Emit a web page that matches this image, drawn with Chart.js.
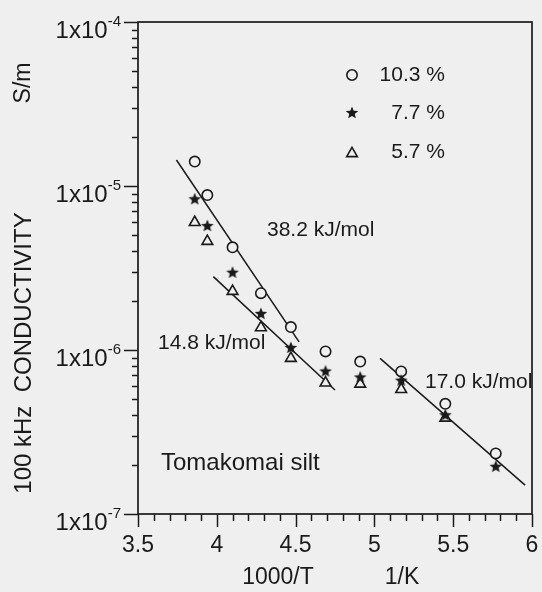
<!DOCTYPE html>
<html><head><meta charset="utf-8">
<script src="https://cdn.jsdelivr.net/npm/chart.js@4/dist/chart.umd.min.js"></script>
<style>html,body{margin:0;padding:0;background:#efefef;}canvas{display:block;}</style>
</head><body>
<canvas id="c" width="542" height="592"></canvas>
<script>
// ---- data ----
const invTemp  = [3.86, 3.94, 4.10, 4.28, 4.47, 4.69, 4.91, 5.17, 5.45, 5.77];
const cond103  = [1.41e-5, 8.8e-6, 4.23e-6, 2.22e-6, 1.38e-6, 9.8e-7, 8.5e-7, 7.4e-7, 4.7e-7, 2.34e-7];
const cond77   = [8.3e-6, 5.7e-6, 2.96e-6, 1.66e-6, 1.03e-6, 7.4e-7, 6.8e-7, 6.5e-7, 4.0e-7, 1.94e-7];
const cond57   = [6.0e-6, 4.6e-6, 2.28e-6, 1.37e-6, 8.9e-7, 6.3e-7, 6.2e-7, 5.75e-7, 3.85e-7, null];
const fit382X  = [3.744, 4.522];
const fit382Y  = [1.44e-5, 1.12e-6];
const fit148X  = [3.978, 4.750];
const fit148Y  = [2.80e-6, 5.70e-7];
const fit170X  = [5.036, 5.956];
const fit170Y  = [8.89e-7, 1.50e-7];
const legendLabels = ['10.3 %', '7.7 %', '5.7 %'];
const slopeLabels  = ['38.2 kJ/mol', '14.8 kJ/mol', '17.0 kJ/mol'];
const xTickValues  = [3.5, 4, 4.5, 5, 5.5, 6];
const xTickLabels  = ['3.5', '4', '4.5', '5', '5.5', '6'];
const yTickExponents = [-7, -6, -5, -4];
const yTickLabels  = ['1x10', '1x10', '1x10', '1x10'];
const yTickSup     = ['-7', '-6', '-5', '-4'];

// ---- styling ----
const INK = '#1a1a1a';
const BG = '#efefef';
const FONT = '"Liberation Sans", Arial, Helvetica, sans-serif';

function makeStar(outer, inner) {
  const s = Math.ceil(outer * 2 + 2);
  const cv = document.createElement('canvas');
  cv.width = s; cv.height = s;
  const g = cv.getContext('2d');
  g.fillStyle = INK;
  g.beginPath();
  for (let i = 0; i < 10; i++) {
    const r = i % 2 === 0 ? outer : inner;
    const a = -Math.PI / 2 + i * Math.PI / 5;
    const px = s / 2 + r * Math.cos(a), py = s / 2 + r * Math.sin(a);
    if (i === 0) g.moveTo(px, py); else g.lineTo(px, py);
  }
  g.closePath();
  g.fill();
  return cv;
}
const starImg = makeStar(6.6, 2.9);

function pts(xs, ys) {
  const out = [];
  xs.forEach((x, i) => { if (ys[i] != null) out.push({x: x, y: ys[i]}); });
  return out;
}

const deco = {
  id: 'deco',
  beforeDraw(chart) {
    const ctx = chart.ctx;
    ctx.save();
    ctx.fillStyle = BG;
    ctx.fillRect(0, 0, chart.width, chart.height);
    ctx.restore();
  },
  afterDraw(chart) {
    const ctx = chart.ctx, a = chart.chartArea, xs = chart.scales.x, ys = chart.scales.y;
    ctx.save();
    ctx.strokeStyle = INK;
    ctx.fillStyle = INK;
    ctx.lineWidth = 1.7;
    ctx.strokeRect(a.left, a.top, a.right - a.left, a.bottom - a.top);
    // x ticks (outward)
    ctx.lineWidth = 1.5;
    for (let k = 35; k <= 60; k++) {
      const px = Math.round(xs.getPixelForValue(k / 10)) + 0.5;
      const major = k % 5 === 0;
      ctx.beginPath();
      ctx.moveTo(px, a.bottom);
      ctx.lineTo(px, a.bottom + (major ? 13 : 7));
      ctx.stroke();
    }
    // y ticks (outward)
    yTickExponents.forEach(e => {
      for (let m = 1; m <= 9; m++) {
        if (e === yTickExponents[yTickExponents.length - 1] && m > 1) break;
        const py = Math.round(ys.getPixelForValue(m * Math.pow(10, e))) + 0.5;
        ctx.beginPath();
        ctx.moveTo(a.left, py);
        ctx.lineTo(a.left - (m === 1 ? 14 : 6), py);
        ctx.stroke();
      }
    });
    // x tick labels
    ctx.font = '23px ' + FONT;
    ctx.textAlign = 'center';
    ctx.textBaseline = 'middle';
    xTickValues.forEach((v, i) => ctx.fillText(xTickLabels[i], xs.getPixelForValue(v), a.bottom + 32));
    // y tick labels with superscript
    yTickExponents.forEach((e, i) => {
      const py = ys.getPixelForValue(Math.pow(10, e));
      const right = a.left - 17;
      ctx.textAlign = 'right';
      ctx.textBaseline = 'alphabetic';
      ctx.font = '15px ' + FONT;
      const sw = ctx.measureText(yTickSup[i]).width;
      ctx.fillText(yTickSup[i], right, py + 3.5);
      ctx.font = '24px ' + FONT;
      ctx.fillText(yTickLabels[i], right - sw, py + 16);
    });
    // axis titles
    ctx.font = '23px ' + FONT;
    ctx.textAlign = 'center';
    ctx.textBaseline = 'middle';
    ctx.fillText('1000/T', 278, 578);
    ctx.fillText('1/K', 402, 578);
    ctx.save();
    ctx.translate(24, 353);
    ctx.rotate(-Math.PI / 2);
    ctx.font = '24px ' + FONT;
    ctx.fillText('100 kHz  CONDUCTIVITY', 0, 0);
    ctx.restore();
    ctx.save();
    ctx.translate(24, 83);
    ctx.rotate(-Math.PI / 2);
    ctx.font = '23px ' + FONT;
    ctx.fillText('S/m', 0, 0);
    ctx.restore();
    // annotations
    ctx.textAlign = 'left';
    ctx.font = '21px ' + FONT;
    ctx.fillText(slopeLabels[0], 267, 230);
    ctx.fillText(slopeLabels[1], 158, 343);
    ctx.fillText(slopeLabels[2], 425, 382);
    ctx.font = '24px ' + FONT;
    ctx.fillText('Tomakomai silt', 161, 463);
    // legend
    const ly = [75, 113, 152], lx = 352;
    ctx.lineWidth = 1.6;
    ctx.beginPath(); ctx.arc(lx, ly[0], 5.2, 0, Math.PI * 2); ctx.stroke();
    ctx.drawImage(starImg, lx - starImg.width / 2, ly[1] - starImg.height / 2);
    const r = 6.2;
    ctx.beginPath();
    for (let k = 0; k < 3; k++) {
      const ang = k * 2 * Math.PI / 3;
      const px = lx + Math.sin(ang) * r, py = ly[2] + 1.5 - Math.cos(ang) * r;
      if (k === 0) ctx.moveTo(px, py); else ctx.lineTo(px, py);
    }
    ctx.closePath(); ctx.stroke();
    ctx.font = '21px ' + FONT;
    ctx.textAlign = 'right';
    legendLabels.forEach((t, i) => ctx.fillText(t, 445, ly[i]));
    ctx.restore();
  }
};

const lineStyle = {showLine: true, borderColor: INK, borderWidth: 1.5, pointRadius: 0, fill: false, order: 10};

new Chart(document.getElementById('c'), {
  type: 'scatter',
  data: {
    datasets: [
      Object.assign({label: slopeLabels[0], data: pts(fit382X, fit382Y)}, lineStyle),
      Object.assign({label: slopeLabels[1], data: pts(fit148X, fit148Y)}, lineStyle),
      Object.assign({label: slopeLabels[2], data: pts(fit170X, fit170Y)}, lineStyle),
      {label: legendLabels[0], data: pts(invTemp, cond103), pointStyle: 'circle', pointRadius: 5.2,
       borderWidth: 1.6, borderColor: INK, backgroundColor: BG, order: 3},
      {label: legendLabels[2], data: pts(invTemp, cond57), pointStyle: 'triangle', pointRadius: 6.2,
       borderWidth: 1.6, borderColor: INK, backgroundColor: BG, order: 2},
      {label: legendLabels[1], data: pts(invTemp, cond77), pointStyle: starImg, pointRadius: 6,
       borderWidth: 0, borderColor: INK, backgroundColor: INK, order: 1}
    ]
  },
  options: {
    responsive: false,
    animation: false,
    devicePixelRatio: 1,
    events: [],
    layout: {padding: {left: 138, right: 10, top: 22, bottom: 78}, autoPadding: false},
    plugins: {legend: {display: false}, tooltip: {enabled: false}},
    scales: {
      x: {type: 'linear', min: 3.5, max: 6, display: false},
      y: {type: 'logarithmic', min: 1e-7, max: 1e-4, display: false}
    }
  },
  plugins: [deco]
});
</script>
</body></html>
